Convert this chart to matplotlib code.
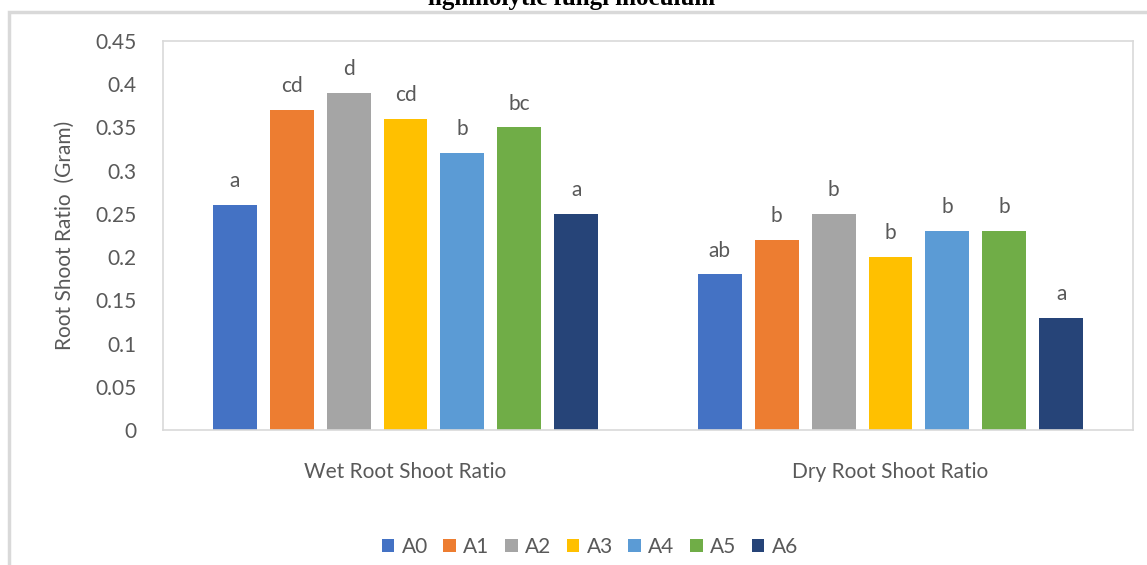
import matplotlib.pyplot as plt
from matplotlib.patches import Rectangle
import numpy as np

categories = ['Wet Root Shoot Ratio', 'Dry Root Shoot Ratio']
series = ['A0', 'A1', 'A2', 'A3', 'A4', 'A5', 'A6']
values = {
    'A0': [0.26, 0.18],
    'A1': [0.37, 0.22],
    'A2': [0.39, 0.25],
    'A3': [0.36, 0.20],
    'A4': [0.32, 0.23],
    'A5': [0.35, 0.23],
    'A6': [0.25, 0.13],
}
letters = {
    'A0': ['a', 'ab'],
    'A1': ['cd', 'b'],
    'A2': ['d', 'b'],
    'A3': ['cd', 'b'],
    'A4': ['b', 'b'],
    'A5': ['bc', 'b'],
    'A6': ['a', 'a'],
}
colors = ['#4472C4', '#ED7D31', '#A5A5A5', '#FFC000', '#5B9BD5', '#70AD47', '#264478']
yticks = [0, 0.05, 0.1, 0.15, 0.2, 0.25, 0.3, 0.35, 0.4, 0.45]
ytick_labels = ['0', '0.05', '0.1', '0.15', '0.2', '0.25', '0.3', '0.35', '0.4', '0.45']

plt.rcParams['font.family'] = ['Lato', 'DejaVu Sans']
text_color = '#595959'
border = '#D9D9D9'
fs = 15

W, H = 1147, 565
fig = plt.figure(figsize=(W / 100, H / 100), dpi=100)

# outer chart border (only left and top visible)
fig.patches.append(Rectangle((9 / W, -0.1), 1.2, (H - 12) / H + 0.1,
                             transform=fig.transFigure, fill=False,
                             edgecolor=border, linewidth=2.5))

# cut-off title above the chart
fig.text(572 / W, 1 - 5 / H, 'ligninolytic fungi inoculum', ha='center',
         va='baseline', family='Liberation Serif', weight='bold', fontsize=18)

ax = fig.add_axes([163 / W, 1 - 430 / H, (1133 - 163) / W, (430 - 41) / H])

x = np.arange(len(categories))
width = 0.0907
step = 0.1175
for i, s in enumerate(series):
    pos = x + (i - 3) * step
    ax.bar(pos, values[s], width=width, color=colors[i], label=s, zorder=2)
    for px, v, t in zip(pos, values[s], letters[s]):
        ax.annotate(t, (px, v), xytext=(0, 10), textcoords='offset points',
                    ha='center', va='bottom', fontsize=fs, color=text_color)

ax.set_xlim(-0.5, 1.5)
ax.set_ylim(0, 0.45)
ax.set_yticks(yticks)
ax.set_yticklabels(ytick_labels)
ax.set_xticks(x)
ax.set_xticklabels(categories)
ax.tick_params(length=0, labelsize=fs, labelcolor=text_color)
ax.tick_params(axis='x', pad=23)
ax.tick_params(axis='y', pad=19)
for sp in ax.spines.values():
    sp.set_color(border)
    sp.set_linewidth(1.2)

ax.set_ylabel('Root Shoot Ratio  (Gram)', fontsize=fs, color=text_color, labelpad=15)

leg = ax.legend(loc='center', bbox_to_anchor=(0.44, -0.3), ncol=7, frameon=False,
                fontsize=fs, handlelength=0.6, handleheight=0.6,
                handletextpad=0.35, columnspacing=0.75)
for t in leg.get_texts():
    t.set_color(text_color)

fig.savefig('out.png', dpi=100)
